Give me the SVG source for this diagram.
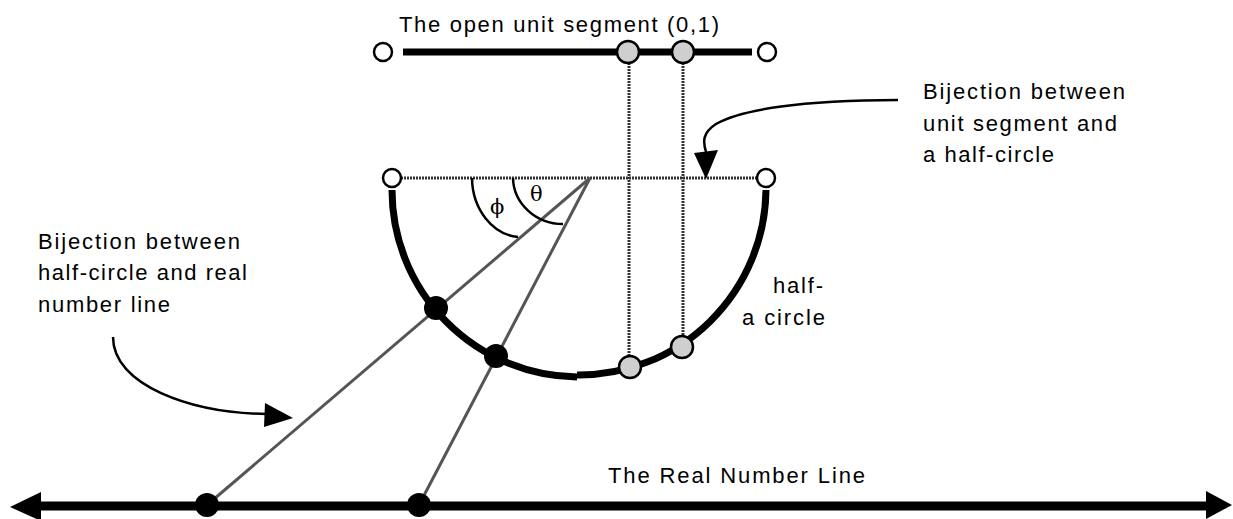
<svg xmlns="http://www.w3.org/2000/svg" width="1233" height="519" viewBox="0 0 1233 519">
<style>
.t{font-family:"Liberation Sans",Arial,sans-serif;font-size:22px;fill:#000}
.g{font-family:"DejaVu Serif","Liberation Serif",serif;font-size:21px;fill:#000}
.dot{stroke:#333;stroke-width:3;stroke-dasharray:2 1;fill:none}
.ray{stroke:#555;stroke-width:3;fill:none}
.open{fill:#fff;stroke:#000;stroke-width:2.5}
.gray{fill:#cfcfcf;stroke:#000;stroke-width:2.5}
.blk{fill:#000}
.thick{stroke:#000;stroke-width:7;fill:none}
.thin{stroke:#000;stroke-width:2.5;fill:none}
</style>
<rect width="1233" height="519" fill="#fff"/>
<g id="connectors">
  <line class="dot" x1="401" y1="178" x2="758" y2="178"/>
  <line class="dot" x1="629" y1="63" x2="629" y2="357"/>
  <line class="dot" x1="683" y1="63" x2="683" y2="336"/>
  <line class="ray" x1="590" y1="178" x2="207" y2="505"/>
  <line class="ray" x1="590" y1="178" x2="419" y2="505"/>
  <path class="thin" d="M472,178 A50,60 0 0 0 518,237"/>
  <path class="thin" d="M513,178 A50,47 0 0 0 563,224"/>
  <path class="thin" d="M113,337 C113,385 190,413 267,414"/>
  <polygon class="blk" points="293,418 265,403 264,427"/>
  <path class="thin" d="M898,100 C800,100 740,110 716,124 C702,133 703,142 706,152"/>
  <polygon class="blk" points="706,179 694,153 718,150"/>
</g>
<g id="unit-segment">
  <line class="thick" x1="403" y1="52" x2="752" y2="52"/>
  <circle class="open" cx="383" cy="52" r="9"/>
  <circle class="open" cx="767" cy="52" r="9"/>
  <circle class="gray" cx="628" cy="52" r="11"/>
  <circle class="gray" cx="683" cy="52" r="11"/>
  <text class="t" x="399" y="32" textLength="320" lengthAdjust="spacing">The open unit segment (0,1)</text>
</g>
<g id="half-circle">
  <path class="thick" d="M392,190 A187,187 0 0 0 577,377"/>
  <path class="thick" d="M577,375 A187,187 0 0 0 766,190"/>
  <circle class="open" cx="392" cy="178" r="9"/>
  <circle class="open" cx="766" cy="178" r="9"/>
  <circle class="blk" cx="436" cy="308" r="12"/>
  <circle class="blk" cx="496" cy="356" r="12"/>
  <circle class="gray" cx="630" cy="367" r="11"/>
  <circle class="gray" cx="682" cy="347" r="11"/>
  <text class="g" x="490" y="214">ϕ</text>
  <text class="g" x="530" y="201">θ</text>
  <text class="t" x="773" y="293" textLength="50" lengthAdjust="spacing">half-</text>
  <text class="t" x="742" y="325" textLength="83" lengthAdjust="spacing">a circle</text>
</g>
<g id="real-line">
  <line stroke="#000" stroke-width="9" x1="38" y1="506" x2="1208" y2="506"/>
  <polygon class="blk" points="10,507 41,492 41,521"/>
  <polygon class="blk" points="1232,505 1206,491 1206,519"/>
  <circle class="blk" cx="207" cy="505" r="12"/>
  <circle class="blk" cx="419" cy="505" r="12"/>
  <text class="t" x="608" y="483" textLength="257" lengthAdjust="spacing">The Real Number Line</text>
</g>
<g id="label-right">
  <text class="t" x="923" y="99" textLength="202" lengthAdjust="spacing">Bijection between</text>
  <text class="t" x="923" y="131" textLength="194" lengthAdjust="spacing">unit segment and</text>
  <text class="t" x="923" y="162" textLength="131" lengthAdjust="spacing">a half-circle</text>
</g>
<g id="label-left">
  <text class="t" x="38" y="249" textLength="202" lengthAdjust="spacing">Bijection between</text>
  <text class="t" x="38" y="280" textLength="209" lengthAdjust="spacing">half-circle and real</text>
  <text class="t" x="38" y="312" textLength="132" lengthAdjust="spacing">number line</text>
</g>
</svg>
